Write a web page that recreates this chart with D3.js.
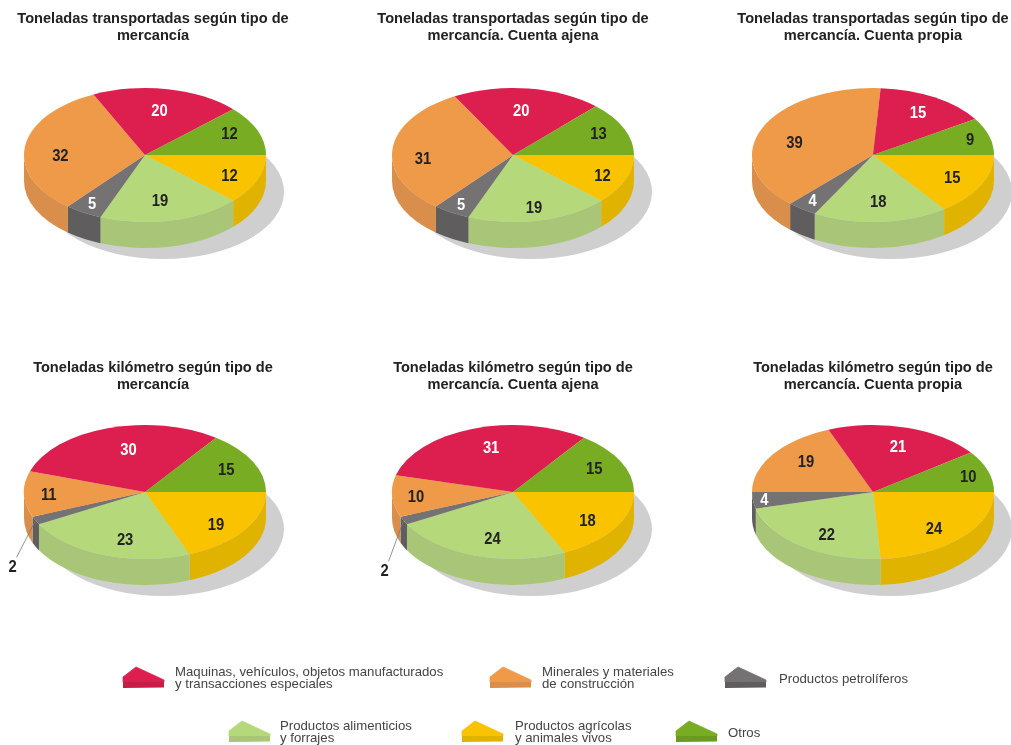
<!DOCTYPE html>
<html><head><meta charset="utf-8">
<script src="https://cdn.jsdelivr.net/npm/d3@7"></script>
<style>html,body{margin:0;padding:0;background:#fff}svg{display:block;filter:blur(0.45px)}
text{font-family:"Liberation Sans",Arial,sans-serif}</style></head><body>
<script>
const categories = ["Productos agrícolas y animales vivos","Productos alimenticios y forrajes","Productos petrolíferos","Minerales y materiales de construcción","Maquinas, vehículos, objetos manufacturados y transacciones especiales","Otros"];
const topColors  = ["#f9c300","#b5d97a","#747273","#ef9a49","#dc1f4e","#78ad23"];
const sideColors = ["#e0b300","#a9c678","#5f5d5e","#d98f4b","#c81c46","#6b9a20"];
const labelColors= ["#222","#222","#fff","#222","#fff","#222"];

const tonTotal  = [12,19,5,32,20,12];
const tonAjena  = [12,19,5,31,20,13];
const tonPropia = [15,18,4,39,15,9];
const tkmTotal  = [19,23,2,11,30,15];
const tkmAjena  = [18,24,2,10,31,15];
const tkmPropia = [24,22,4,19,21,10];

const titles = [
 ["Toneladas transportadas según tipo de","mercancía"],
 ["Toneladas transportadas según tipo de","mercancía. Cuenta ajena"],
 ["Toneladas transportadas según tipo de","mercancía. Cuenta propia"],
 ["Toneladas kilómetro según tipo de","mercancía"],
 ["Toneladas kilómetro según tipo de","mercancía. Cuenta ajena"],
 ["Toneladas kilómetro según tipo de","mercancía. Cuenta propia"]
];
const series = [tonTotal,tonAjena,tonPropia,tkmTotal,tkmAjena,tkmPropia];

// layout
const W=1011,H=745,rx=121,ry=67,depth=26,labelFactor=0.68;
const colX=[145,513,873], rowY=[155,492];
const titleX=[153,513,873], titleY=[23,372];
const nudges=[
 [[8,3],[-3,0],[-11,9],[-3,6],[-1,0],[8,-5]],
 [[13,3],[3,7],[-10,10],[-8,7],[-2,0],[10,-4]],
 [[6,1],[0,0],[-12,8],[-3,5],[3,-4],[18,-3]],
 [[3,6],[8,4],[-58,54],[-14,0],[9,0],[8,-2]],
 [[5,3],[5,3],[-54,58],[-15,1],[6,-2],[8,-3]],
 [[1,5],[2,5],[-27,1],[1,-6],[2,-2],[17,-2]]
];

const topC=d3.scaleOrdinal(categories,topColors), sideC=d3.scaleOrdinal(categories,sideColors), labC=d3.scaleOrdinal(categories,labelColors);
const svg=d3.select("body").append("svg").attr("width",W).attr("height",H).attr("viewBox",`0 0 ${W} ${H}`);
const pie=d3.pie().sort(null).startAngle(Math.PI/2).endAngle(Math.PI*2.5);
const arc=d3.arc().innerRadius(0).outerRadius(rx);
const k=ry/rx;
const D=depth/k;

series.forEach((vals,i)=>{
  const cx=colX[i%3], cy=rowY[Math.floor(i/3)];
  // title
  const t=svg.append("text").attr("text-anchor","middle").attr("font-weight","bold").attr("font-size",14.6).attr("fill","#222");
  titles[i].forEach((s,j)=>t.append("tspan").attr("x",titleX[i%3]).attr("y",titleY[Math.floor(i/3)]+j*17).text(s));
  // shadow
  svg.append("ellipse").attr("cx",cx+18).attr("cy",cy+37).attr("rx",rx).attr("ry",ry).attr("fill","#cfcfd0");
  const g=svg.append("g").attr("transform",`translate(${cx},${cy}) scale(1,${k})`);
  const arcs=pie(vals).map((a,j)=>({...a,cat:categories[j],idx:j}));
  // sides
  g.selectAll("path.side").data(arcs).join("path").attr("class","side").attr("fill",d=>sideC(d.cat))
   .attr("d",d=>{
     const lo=Math.max(d.startAngle-Math.PI/2,0), hi=Math.min(d.endAngle-Math.PI/2,Math.PI);
     if(lo>=hi) return null;
     const p=d3.path();
     p.arc(0,0,rx,lo,hi,false);
     p.lineTo(rx*Math.cos(hi),rx*Math.sin(hi)+D);
     p.arc(0,D,rx,hi,lo,true);
     p.closePath();
     return p.toString();
   });
  // tops
  g.selectAll("path.top").data(arcs).join("path").attr("class","top").attr("fill",d=>topC(d.cat)).attr("d",arc);
  // labels
  arcs.forEach(d=>{
    const mid=(d.startAngle+d.endAngle)/2-Math.PI/2;
    const n=nudges[i][d.idx];
    const x=cx+rx*labelFactor*Math.cos(mid)+n[0], y=cy+ry*labelFactor*Math.sin(mid)+n[1];
    const outside=Math.abs(n[0])>40;
    if(outside){
      svg.append("line").attr("x1",x+4).attr("y1",y-8).attr("x2",cx+rx*Math.cos(mid)).attr("y2",cy+ry*Math.sin(mid)).attr("stroke","#777").attr("stroke-width",0.8);
    }
    svg.append("text").attr("transform",`translate(${x},${y}) scale(0.87,1)`).attr("dy","0.36em").attr("text-anchor","middle")
      .attr("font-weight","bold").attr("font-size",17)
      .attr("fill",outside?"#222":labC(d.cat)).text(d.value);
  });
});

// legend
const legendLines=[["Maquinas, vehículos, objetos manufacturados","y transacciones especiales"],["Minerales y materiales","de construcción"],["Productos petrolíferos"],["Productos alimenticios","y forrajes"],["Productos agrícolas","y animales vivos"],["Otros"]];
const legendCat=[4,3,2,1,0,5];
const legendX=[123,490,725,229,462,676], legendTextX=[175,542,779,280,515,728], legendY=[667,667,667,721,721,721];
const swatchTop=[[0,10],[13,0],[41,13],[41,15],[0,15]], swatchSide=[[0,15],[41,15],[41,20.5],[0,21]];
const line=d3.line().curve(d3.curveLinearClosed);
legendLines.forEach((ls,i)=>{
  const c=categories[legendCat[i]];
  const g=svg.append("g").attr("transform",`translate(${legendX[i]},${legendY[i]})`);
  g.append("path").attr("d",line(swatchTop)).attr("fill",topC(c)).attr("stroke",topC(c)).attr("stroke-width",0.8).attr("stroke-linejoin","round");
  g.append("path").attr("d",line(swatchSide)).attr("fill",sideC(c));
  const t=svg.append("text").attr("font-size",13.2).attr("fill","#444");
  const base=ls.length===1?legendY[i]+16.3:legendY[i]+9;
  ls.forEach((s,j)=>t.append("tspan").attr("x",legendTextX[i]).attr("y",base+j*11.8).text(s));
});
</script></body></html>
